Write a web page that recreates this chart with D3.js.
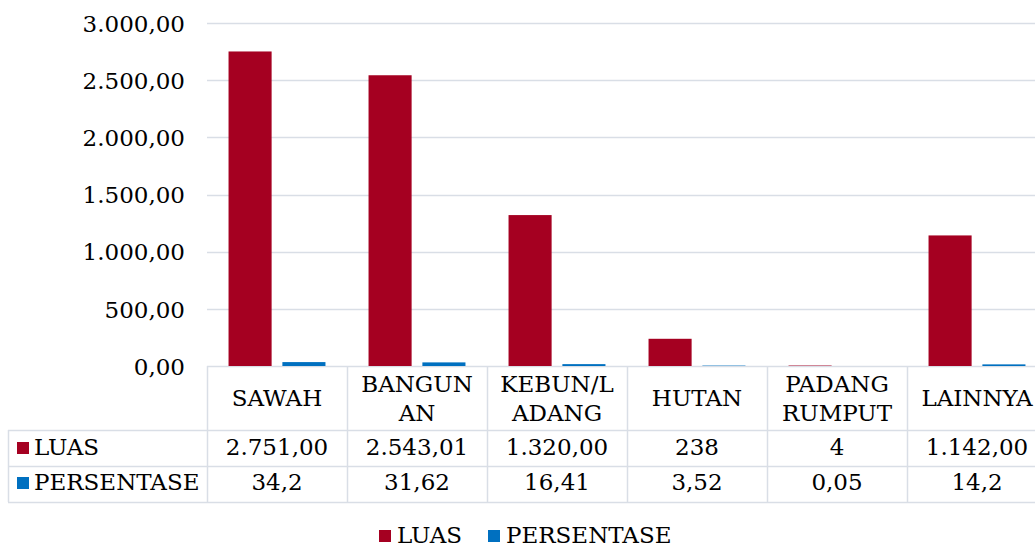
<!DOCTYPE html>
<html>
<head>
<meta charset="utf-8">
<script src="https://cdn.jsdelivr.net/npm/d3@7"></script>
<style>
html,body{margin:0;padding:0;background:#fff;}
svg{display:block;font-family:"DejaVu Serif",serif;}
</style>
</head>
<body>
<svg id="chart" width="1035" height="548"></svg>
<script>
const categories = ["SAWAH","BANGUNAN","KEBUN/LADANG","HUTAN","PADANG RUMPUT","LAINNYA"];
const categoryLines = [["SAWAH"],["BANGUN","AN"],["KEBUN/L","ADANG"],["HUTAN"],["PADANG","RUMPUT"],["LAINNYA"]];
const seriesNames = ["LUAS","PERSENTASE"];
const luas = [2751.00, 2543.01, 1320.00, 238, 4, 1142.00];
const persentase = [34.2, 31.62, 16.41, 3.52, 0.05, 14.2];
const luasLabels = ["2.751,00","2.543,01","1.320,00","238","4","1.142,00"];
const persentaseLabels = ["34,2","31,62","16,41","3,52","0,05","14,2"];
const yTicks = [0,500,1000,1500,2000,2500,3000];
const colors = ["#a50021","#0070c0"];

const W = 1035, H = 548;
const svg = d3.select("#chart");
const fs = 23;
const gridColor = "#d9dee6";
const textColor = "#000";

const loc = d3.formatLocale({decimal:",", thousands:".", grouping:[3], currency:["",""]});
const fmt = loc.format(",.2f");

const x = d3.scaleBand().domain(categories).range([207,1047]).paddingInner(0).paddingOuter(0);
const xs = d3.scaleBand().domain(seriesNames).range([0,x.bandwidth()]).paddingInner(0.2).paddingOuter(0.4);
const y = d3.scaleLinear().domain([0,3000]).range([366,23]);

// gridlines
svg.append("g").selectAll("line").data(yTicks).join("line")
  .attr("x1",207).attr("x2",W)
  .attr("y1",d=>Math.round(y(d))+0.5).attr("y2",d=>Math.round(y(d))+0.5)
  .attr("stroke",gridColor).attr("stroke-width",1.5);

// y axis labels
const yAxis = d3.axisLeft(y).tickValues(yTicks).tickFormat(fmt).tickSize(0).tickPadding(0);
const ga = svg.append("g").attr("transform","translate(185,0)").call(yAxis);
ga.select(".domain").remove();
ga.selectAll("text").attr("font-family","DejaVu Serif, serif").attr("font-size",fs).attr("fill",textColor).attr("dy","0.36em");

// bars
const series = [luas, persentase];
const gb = svg.append("g");
series.forEach((vals,si)=>{
  gb.selectAll(null).data(categories).join("rect")
    .attr("x",d=>x(d)+xs(seriesNames[si]))
    .attr("width",xs.bandwidth())
    .attr("y",(d,i)=>y(vals[i]))
    .attr("height",(d,i)=>y(0)-y(vals[i]))
    .attr("fill",colors[si]);
});

// table
const rowTop = 366, hdrBottom = 430, r1Bottom = 466, r2Bottom = 502, tableLeft = 8;
const gt = svg.append("g").attr("stroke",gridColor).attr("stroke-width",1.5);
[hdrBottom, r1Bottom, r2Bottom].forEach(yy=>{
  gt.append("line").attr("x1",tableLeft).attr("x2",W).attr("y1",yy+0.5).attr("y2",yy+0.5);
});
gt.append("line").attr("x1",tableLeft+0.5).attr("x2",tableLeft+0.5).attr("y1",hdrBottom).attr("y2",r2Bottom);
categories.concat(["__end"]).forEach((c,i)=>{
  const xx = i<categories.length ? x(c) : x.range()[1];
  gt.append("line").attr("x1",Math.round(xx)+0.5).attr("x2",Math.round(xx)+0.5).attr("y1",rowTop).attr("y2",r2Bottom);
});

const gtx = svg.append("g").attr("font-size",fs).attr("fill",textColor).attr("text-anchor","middle");
categoryLines.forEach((lines,i)=>{
  const cx = x(categories[i]) + x.bandwidth()/2;
  if(lines.length===1){
    gtx.append("text").attr("x",cx).attr("y",406).text(lines[0]);
  } else {
    lines.forEach((ln,j)=>{
      gtx.append("text").attr("x",cx).attr("y",392+j*28.5).text(ln);
    });
  }
  gtx.append("text").attr("x",cx).attr("y",455).text(luasLabels[i]);
  gtx.append("text").attr("x",cx).attr("y",490).text(persentaseLabels[i]);
});

// row headers with keys
const rowY = [455, 490];
seriesNames.forEach((s,i)=>{
  svg.append("rect").attr("x",17).attr("y",rowY[i]-13).attr("width",12).attr("height",12).attr("fill",colors[i]);
  svg.append("text").attr("x",34).attr("y",rowY[i]).attr("font-size",fs).attr("fill",textColor).text(s);
});

// bottom legend
const legX = [379, 488];
seriesNames.forEach((s,i)=>{
  svg.append("rect").attr("x",legX[i]).attr("y",530).attr("width",12).attr("height",12).attr("fill",colors[i]);
  svg.append("text").attr("x",legX[i]+18).attr("y",543).attr("font-size",fs).attr("fill",textColor).text(s);
});
</script>
</body>
</html>
